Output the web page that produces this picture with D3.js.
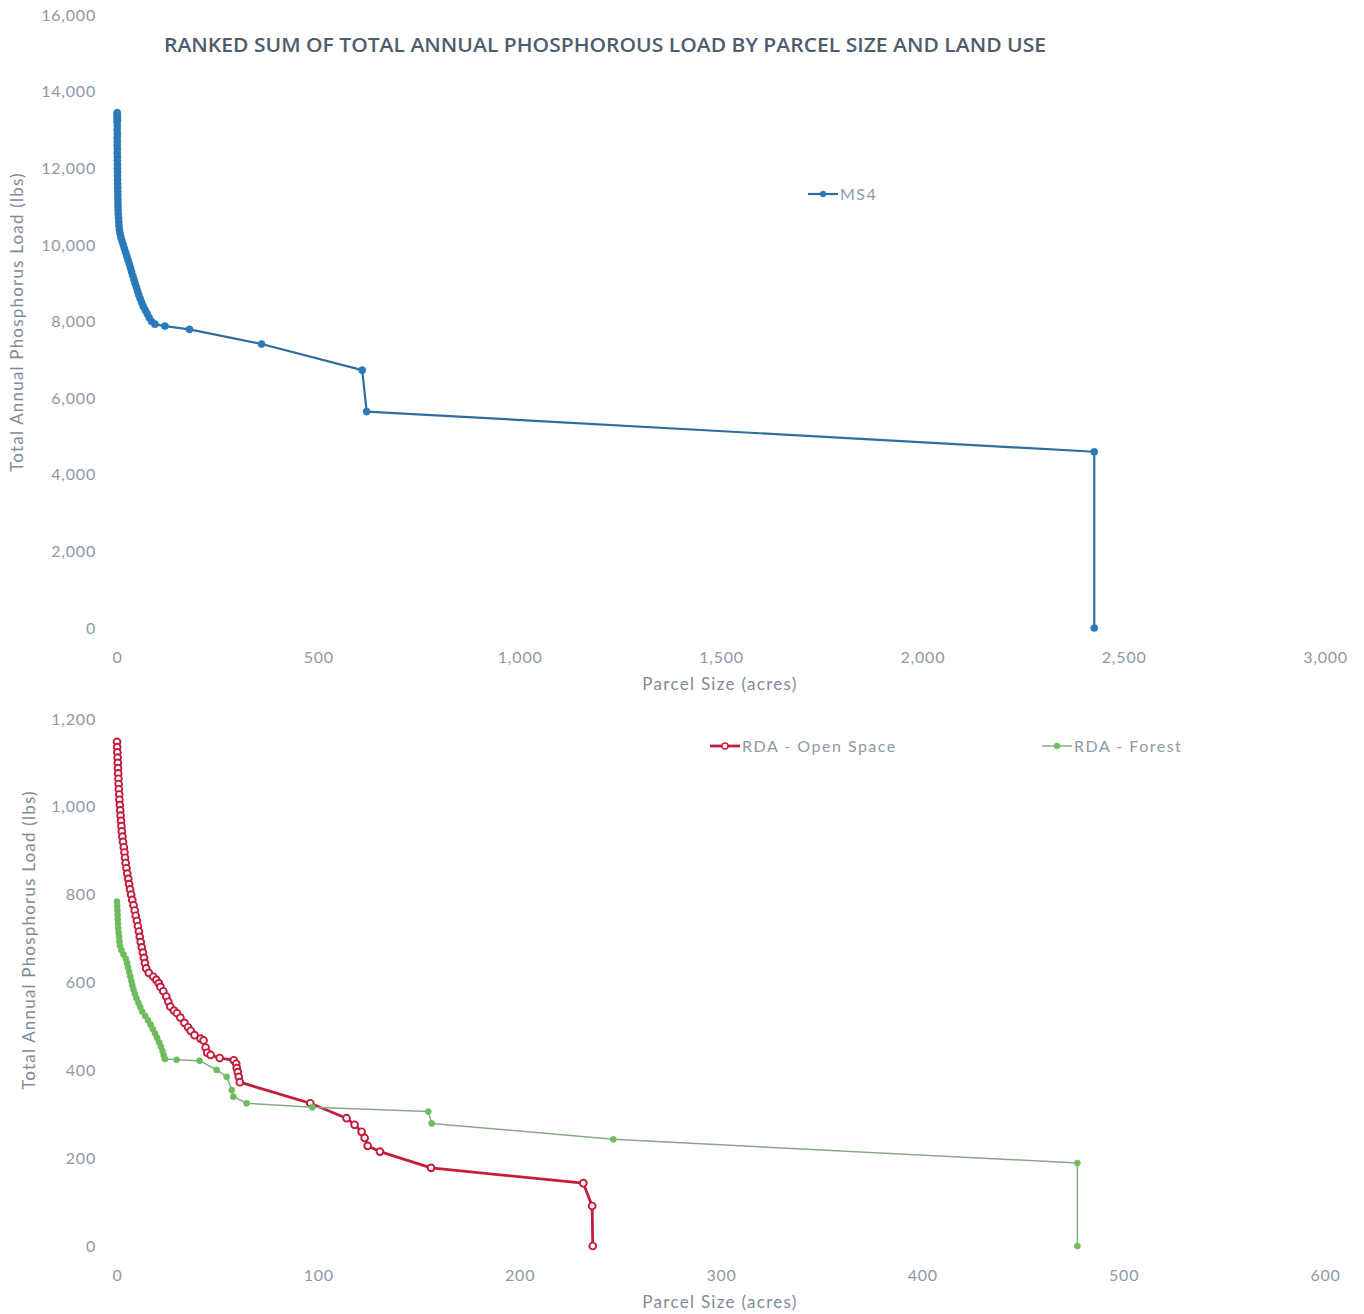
<!DOCTYPE html>
<html>
<head>
<meta charset="utf-8">
<script src="https://cdn.jsdelivr.net/npm/d3@7"></script>
<style>
  html, body { margin: 0; padding: 0; background: #ffffff; }
  svg { display: block; }
  text { font-family: Lato, "Open Sans", "DejaVu Sans", sans-serif; }
</style>
</head>
<body>
<svg id="chart" width="1364" height="1314"></svg>
<script>
// ---- MS4 parcels: cumulative load (lbs) ranked against parcel size (acres)
const ms4Acres = [0.5, 0.2, 1.0, 0.4, 0.9, 0.3, 0.8, 0.4, 0.9, 0.5, 0.8, 0.6, 1.0, 0.7, 1.1, 0.9, 1.2, 1.1, 1.4, 1.3,
  1.6, 1.5, 1.8, 1.8, 2.0, 2.1, 2.3, 2.5, 2.9, 3.3, 3.8, 4.4, 5.0, 5.8, 7.5, 9.5, 12.5, 15.7, 18.5, 21.5,
  24.5, 27.5, 30.6, 33.5, 36, 39, 42, 44.7, 48, 51, 54, 57.5, 61, 65, 70, 75, 80, 86, 94, 119,
  180, 359, 609, 620, 2427, 2427];
const ms4Load = [13450, 13400, 13350, 13300, 13250, 13200, 13100, 13000, 12900, 12800, 12700, 12600, 12500, 12400, 12300, 12200, 12100, 12000, 11900, 11800,
  11700, 11600, 11500, 11400, 11300, 11200, 11100, 11000, 10900, 10800, 10700, 10600, 10500, 10400, 10300, 10200, 10100, 10000, 9900, 9800,
  9700, 9600, 9500, 9400, 9300, 9200, 9100, 9000, 8900, 8800, 8700, 8600, 8500, 8400, 8300, 8200, 8100, 8000, 7930, 7880,
  7795, 7412, 6730, 5650, 4600, 0];

// ---- RDA open space parcels
const openSpaceAcres = [0, 0.1, 0.2, 0.3, 0.4, 0.5, 0.6, 0.7, 0.8, 0.9, 1.1, 1.2, 1.4, 1.6, 1.8, 2.0, 2.2, 2.4, 2.7, 3.0,
  3.4, 3.7, 4.0, 4.3, 4.7, 5.1, 5.6, 6.0, 6.5, 7.0, 7.6, 8.2, 8.8, 9.3, 9.9, 10.4, 10.9, 11.3, 11.8, 12.3,
  12.9, 13.4, 13.9, 14.5, 15.8, 18.0, 19.5, 20.8, 21.6, 23, 24.5, 25.5, 26.5, 28.3, 29.8, 31.5, 33.5, 35.3, 36.6, 38.5,
  41.5, 43.0, 44.0, 44.8, 46.5, 51, 58, 59.2, 59.5, 60, 60.5, 61.0, 96, 114, 118, 121.5, 123, 124.5, 130.6, 156,
  231.6, 236, 236.3];
const openSpaceLoad = [1148, 1136, 1124, 1112, 1100, 1088, 1076, 1064, 1052, 1040, 1028, 1016, 1004, 992, 980, 968, 956, 944, 932, 920,
  908, 896, 884, 872, 860, 848, 836, 824, 812, 800, 788, 776, 764, 752, 740, 728, 716, 704, 692, 680,
  668, 656, 644, 632, 622, 613, 606, 598, 590, 580, 568, 556, 545, 536, 530, 520, 508, 498, 490, 480,
  472, 468, 452, 440, 435, 428, 423, 415, 405, 396, 385, 373, 325, 291, 276, 260, 246, 228, 215, 178,
  143, 91, 0];

// ---- RDA forest parcels
const forestAcres = [0.0, 0.1, 0.2, 0.3, 0.4, 0.5, 0.6, 0.8, 1.0, 1.2, 1.5, 2.2, 3.2, 4.4, 5.0, 5.5, 6.0, 6.6, 7.1, 7.6,
  8.2, 8.9, 9.6, 10.6, 11.5, 12.5, 14.0, 15.4, 16.7, 17.8, 18.9, 19.9, 20.9, 21.8, 22.6, 23.2, 23.8, 29.6, 41, 49.5,
  54.5, 57, 57.8, 64.4, 97, 154.6, 156.3, 246.5, 477, 477];
const forestLoad = [784, 774, 764, 754, 744, 734, 724, 714, 704, 694, 684, 674, 664, 654, 644, 634, 624, 614, 604, 594,
  584, 574, 564, 554, 544, 534, 524, 514, 504, 494, 484, 474, 464, 454, 444, 434, 426, 424, 422, 401,
  385, 355, 340, 325, 316, 306, 279, 243, 189, 0];

// ---- axis ticks
const topXTicks = [0, 500, 1000, 1500, 2000, 2500, 3000];
const topYTicks = [0, 2000, 4000, 6000, 8000, 10000, 12000, 14000, 16000];
const bottomXTicks = [0, 100, 200, 300, 400, 500, 600];
const bottomYTicks = [0, 200, 400, 600, 800, 1000, 1200];

const chartTitle = "RANKED SUM OF TOTAL ANNUAL PHOSPHOROUS LOAD BY PARCEL SIZE AND LAND USE";
const xTitle = "Parcel Size (acres)";
const yTitle = "Total Annual Phosphorus Load (lbs)";

const zip = (xs, ys) => xs.map((x, i) => ({ x, y: ys[i] }));

const svg = d3.select("#chart");
const tickColor = "#8d99a6";
const titleColor = "#7f8b97";
const fmt = d3.format(",");

// Title
svg.append("text")
  .attr("x", 605).attr("y", 52)
  .attr("text-anchor", "middle")
  .attr("textLength", 882).attr("lengthAdjust", "spacingAndGlyphs")
  .style("font-family", "'Open Sans', Lato, sans-serif")
  .style("font-weight", 600)
  .style("font-size", "19px")
  .style("fill", "#4e5d6c")
  .text(chartTitle);

function panel(cfg) {
  const x = d3.scaleLinear().domain(cfg.xDomain).range([117, 1325]);
  const y = d3.scaleLinear().domain(cfg.yDomain).range([cfg.y0, cfg.yTop]);
  const g = svg.append("g");

  // x axis (labels only)
  const xa = g.append("g")
    .attr("transform", `translate(0,${cfg.y0 + 21})`)
    .call(d3.axisBottom(x).tickValues(cfg.xTicks).tickSize(0).tickFormat(fmt));
  xa.select(".domain").remove();
  xa.selectAll("text")
    .style("font-size", "16px").style("fill", tickColor)
    .style("font-family", "Lato, 'Open Sans', sans-serif")
    .style("letter-spacing", "0.8px");

  // y axis (labels only)
  const ya = g.append("g")
    .attr("transform", "translate(117,0)")
    .call(d3.axisLeft(y).tickValues(cfg.yTicks).tickSize(0).tickPadding(21).tickFormat(fmt));
  ya.select(".domain").remove();
  ya.selectAll("text")
    .style("font-size", "16px").style("fill", tickColor)
    .style("font-family", "Lato, 'Open Sans', sans-serif")
    .style("letter-spacing", "0.8px");

  // axis titles
  g.append("text")
    .attr("x", 720).attr("y", cfg.y0 + 62)
    .attr("text-anchor", "middle")
    .style("font-size", "17px").style("fill", titleColor)
    .style("letter-spacing", "1.3px")
    .text(xTitle);
  g.append("text")
    .attr("transform", `translate(${cfg.yTitleX},${cfg.yTitleY}) rotate(-90)`)
    .attr("text-anchor", "middle")
    .style("font-size", "17px").style("fill", titleColor)
    .style("letter-spacing", "1.2px")
    .text(yTitle);

  const line = d3.line().x(d => x(d.x)).y(d => y(d.y));

  cfg.series.forEach(s => {
    const pts = zip(s.xs, s.ys);
    g.append("path")
      .datum(pts)
      .attr("d", line)
      .attr("fill", "none")
      .attr("stroke", s.lineColor)
      .attr("stroke-width", s.lineWidth)
      .attr("stroke-linejoin", "round");
    g.append("g").selectAll("circle")
      .data(pts).join("circle")
      .attr("cx", d => x(d.x)).attr("cy", d => y(d.y))
      .attr("r", s.r)
      .attr("fill", s.fill)
      .attr("stroke", s.stroke)
      .attr("stroke-width", s.strokeWidth);

    // legend entry
    const lg = g.append("g").attr("transform", `translate(${s.legendX},${s.legendY})`);
    lg.append("line").attr("x1", 0).attr("x2", 30).attr("y1", 0).attr("y2", 0)
      .attr("stroke", s.lineColor).attr("stroke-width", s.lineWidth);
    lg.append("circle").attr("cx", 15).attr("cy", 0).attr("r", Math.min(s.r, 3))
      .attr("fill", s.fill).attr("stroke", s.stroke).attr("stroke-width", Math.min(s.strokeWidth, 1.4));
    lg.append("text").attr("x", 32).attr("y", 6)
      .style("font-size", "16px").style("fill", "#8d99a6")
      .style("letter-spacing", "1.5px")
      .text(s.name);
  });
}

panel({
  xDomain: [0, 3000], yDomain: [0, 16000], y0: 628, yTop: 15,
  xTicks: topXTicks, yTicks: topYTicks,
  yTitleX: 23, yTitleY: 322,
  series: [{
    name: "MS4", xs: ms4Acres, ys: ms4Load,
    lineColor: "#2f6e9c", lineWidth: 2.2, r: 3.6, fill: "#2a79b8", stroke: "#2a79b8", strokeWidth: 0.5,
    legendX: 808, legendY: 194
  }]
});

panel({
  xDomain: [0, 600], yDomain: [0, 1200], y0: 1246, yTop: 719,
  xTicks: bottomXTicks, yTicks: bottomYTicks,
  yTitleX: 35, yTitleY: 940,
  series: [{
    name: "RDA - Open Space", xs: openSpaceAcres, ys: openSpaceLoad,
    lineColor: "#c41c3c", lineWidth: 2.8, r: 3.4, fill: "#ffffff", stroke: "#c41c3c", strokeWidth: 1.9,
    legendX: 710, legendY: 746
  }, {
    name: "RDA - Forest", xs: forestAcres, ys: forestLoad,
    lineColor: "#86aa84", lineWidth: 1.5, r: 3.1, fill: "#6ebc5e", stroke: "#6ebc5e", strokeWidth: 0.5,
    legendX: 1042, legendY: 746
  }]
});
</script>
</body>
</html>
